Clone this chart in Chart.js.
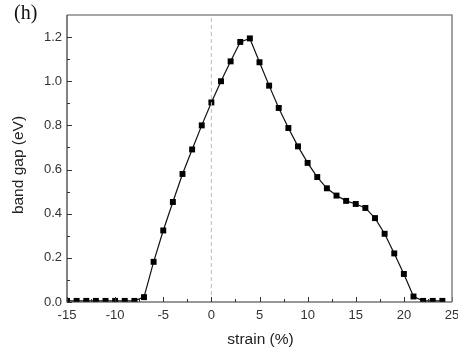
<!DOCTYPE html>
<html>
<head>
<meta charset="utf-8">
<script src="https://cdn.jsdelivr.net/npm/chart.js@4"></script>
<style>
html,body{margin:0;padding:0;background:#fff;overflow:hidden;}
#wrap{position:relative;width:458px;height:352px;}
</style>
</head>
<body>
<div id="wrap"><canvas id="c" width="458" height="352"></canvas></div>
<script>
const strain = [-15,-14,-13,-12,-11,-10,-9,-8,-7,-6,-5,-4,-3,-2,-1,0,1,2,3,4,5,6,7,8,9,10,11,12,13,14,15,16,17,18,19,20,21,22,23,24];
const bandGap = [0.005,0.005,0.005,0.005,0.005,0.005,0.005,0.005,0.022,0.182,0.324,0.453,0.58,0.691,0.80,0.904,1.0,1.09,1.178,1.194,1.086,0.98,0.879,0.788,0.705,0.63,0.566,0.515,0.482,0.458,0.444,0.426,0.38,0.309,0.22,0.127,0.025,0.005,0.005,0.005];
const xTicks = [-15,-10,-5,0,5,10,15,20,25];
const yTicks = [0,0.2,0.4,0.6,0.8,1.0,1.2];
const xMinorTicks = [-12.5,-7.5,-2.5,2.5,7.5,12.5,17.5,22.5];
const yMinorTicks = [0.1,0.3,0.5,0.7,0.9,1.1];
const zeroLine = [{x:0,y:0},{x:0,y:1.3}];
const xTitle = 'strain (%)';
const yTitle = 'band gap (eV)';
const panelLabel = '(h)';

const frame = {
  id:'frame',
  afterDraw(chart){
    const {ctx, chartArea:a, scales:{x,y}} = chart;
    ctx.save();
    ctx.strokeStyle = '#333'; ctx.lineWidth = 1;
    ctx.beginPath();
    xTicks.forEach(v=>{const p=Math.round(x.getPixelForValue(v))+0.5; ctx.moveTo(p,a.bottom); ctx.lineTo(p,a.bottom-5);});
    xMinorTicks.forEach(v=>{const p=Math.round(x.getPixelForValue(v))+0.5; ctx.moveTo(p,a.bottom); ctx.lineTo(p,a.bottom-3);});
    yTicks.forEach(v=>{const p=Math.round(y.getPixelForValue(v))+0.5; ctx.moveTo(a.left,p); ctx.lineTo(a.left+5,p);});
    yMinorTicks.forEach(v=>{const p=Math.round(y.getPixelForValue(v))+0.5; ctx.moveTo(a.left,p); ctx.lineTo(a.left+3,p);});
    ctx.stroke();
    ctx.strokeStyle = '#8a8a8a'; ctx.lineWidth = 1.6;
    ctx.beginPath();
    ctx.moveTo(a.left, a.top); ctx.lineTo(a.right, a.top); ctx.lineTo(a.right, a.bottom);
    ctx.stroke();
    ctx.strokeStyle = '#333'; ctx.lineWidth = 1.2;
    ctx.beginPath();
    ctx.moveTo(a.left, a.top); ctx.lineTo(a.left, a.bottom); ctx.lineTo(a.right, a.bottom);
    ctx.stroke();
    // axis titles
    ctx.fillStyle = '#222';
    ctx.font = '15.5px "Liberation Sans", Arial, sans-serif';
    ctx.textAlign = 'center'; ctx.textBaseline = 'middle';
    ctx.fillText(xTitle, (a.left + a.right)/2 + 1, 340);
    ctx.save();
    ctx.translate(19, 165);
    ctx.rotate(-Math.PI/2);
    ctx.fillText(yTitle, 0, 0);
    ctx.restore();
    // panel label
    ctx.fillStyle = '#111';
    ctx.font = '20px "Liberation Serif", serif';
    ctx.textAlign = 'left'; ctx.textBaseline = 'alphabetic';
    ctx.fillText(panelLabel, 14, 19);
    ctx.restore();
  }
};

new Chart(document.getElementById('c'), {
  type: 'line',
  data: {
    datasets: [
      {
        data: zeroLine,
        borderColor: '#c9c27a',
        borderWidth: 1,
        borderDash: [4,3],
        pointRadius: 0,
        fill: false
      },
      {
        data: strain.map((s,i)=>({x:s,y:bandGap[i]})),
        borderColor: '#111',
        borderWidth: 1.2,
        pointStyle: 'rect',
        pointRadius: 4.2,
        pointBackgroundColor: '#000',
        pointBorderColor: '#000',
        pointBorderWidth: 0,
        tension: 0,
        fill: false,
        clip: 0
      }
    ]
  },
  options: {
    responsive: false,
    animation: false,
    devicePixelRatio: 1,
    layout: {padding: {left: 0, right: 6, top: 15, bottom: 0}},
    plugins: {legend:{display:false}, tooltip:{enabled:false}, title:{display:false}},
    scales: {
      x: {
        type: 'linear', min: -15, max: 25,
        grid: {display:false, drawTicks:false},
        border: {display:false},
        afterBuildTicks: s => { s.ticks = xTicks.map(v=>({value:v})); },
        afterFit: s => { s.height = 50; s.paddingLeft = 0; s.paddingRight = 0; },
        ticks: {padding: 6, color: '#333', font: {family: '"Liberation Sans", Arial, sans-serif', size: 13}, maxRotation: 0, autoSkip: false},
        title: {display: false}
      },
      y: {
        type: 'linear', min: 0, max: 1.3,
        grid: {display:false, drawTicks:false},
        border: {display:false},
        afterBuildTicks: s => { s.ticks = yTicks.map(v=>({value:v})); },
        afterFit: s => { s.width = 67; s.paddingTop = 0; s.paddingBottom = 0; },
        ticks: {padding: 5, color: '#333', font: {family: '"Liberation Sans", Arial, sans-serif', size: 13}, callback: v => v.toFixed(1)},
        title: {display: false}
      }
    }
  },
  plugins: [frame]
});
</script>
</body>
</html>
